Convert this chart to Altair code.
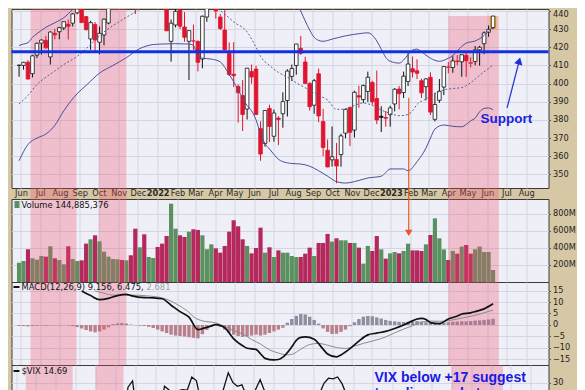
import altair as alt
import pandas as pd

# ---------------- data (weekly) ----------------
week_start = "2021-05-29"
n_weeks = 107

opens = [410.1, 410.0, 411.8, 405.5, 415.7, 422.3, 423.8, 414.7, 427.7, 428.6,
         430.7, 432.7, 433.3, 439.0, 440.9, 436.9, 424.6, 432.6, 422.8, 426.8,
         433.4, 443.6, 449.4, 458.8, 457.7, 460.1, 453.5, 445.3, 459.4, 445.3,
         462.7, 466.9, 453.5, 450.8, 423.3, 432.3, 440.6, 431.2, 423.3, 423.4,
         423.2, 413.5, 436.7, 444.4, 445.5, 436.7, 429.5, 416.7, 405.2, 398.4,
         393.4, 386.0, 406.7, 408.0, 375.2, 367.0, 386.3, 371.0, 381.0, 383.4,
         390.7, 404.0, 410.0, 419.4, 411.9, 400.0, 388.1, 405.4, 379.1, 363.3,
         358.0, 358.2, 360.9, 372.7, 386.9, 374.4, 393.3, 391.2, 395.7, 400.6,
         391.8, 382.0, 381.3, 382.9, 388.8, 397.0, 395.1, 401.2, 408.2, 407.1,
         401.6, 398.3, 403.5, 380.3, 390.8, 398.1, 408.9, 408.9, 412.4, 412.0,
         415.5, 411.1, 412.2, 418.6, 422.0, 428.3, 430.9]
highs = [410.4, 412.0, 412.9, 415.8, 422.6, 424.3, 426.3, 428.8, 430.2, 431.2,
         434.1, 435.3, 438.8, 441.1, 441.0, 437.2, 434.6, 433.9, 431.5, 435.9,
         444.1, 448.9, 459.8, 459.3, 460.0, 462.7, 456.0, 460.1, 462.1, 461.4,
         469.6, 470.6, 464.0, 451.1, 435.3, 449.2, 449.0, 439.4, 429.2, 432.5,
         423.9, 437.5, 445.4, 454.4, 450.2, 438.4, 442.7, 422.7, 422.8, 399.7,
         402.0, 408.6, 410.5, 409.8, 379.2, 385.2, 388.4, 385.7, 382.0, 395.2,
         407.9, 410.5, 421.9, 426.3, 414.8, 400.8, 402.5, 408.3, 386.1, 369.2,
         376.4, 367.3, 372.4, 386.3, 387.2, 396.1, 398.9, 399.5, 406.6, 401.6,
         407.2, 387.5, 384.9, 387.8, 397.5, 398.7, 406.6, 416.7, 414.9, 413.4,
         402.7, 402.9, 406.2, 395.0, 402.5, 409.7, 411.9, 415.1, 415.7, 415.9,
         417.6, 414.5, 420.7, 420.8, 428.7, 432.0, 437.3]
lows = [403.8, 407.7, 402.3, 403.4, 414.1, 416.0, 419.3, 410.5, 424.4, 424.4,
        429.5, 424.3, 431.5, 438.2, 433.5, 429.3, 418.6, 417.0, 416.2, 421.1,
        432.7, 442.1, 447.3, 451.1, 454.5, 445.6, 438.3, 442.8, 446.2, 442.3,
        462.6, 455.3, 447.4, 429.0, 412.1, 430.9, 430.0, 423.1, 402.0, 418.5,
        406.7, 408.4, 434.1, 441.4, 435.8, 429.5, 418.1, 404.2, 398.1, 378.5,
        373.9, 380.2, 400.0, 383.0, 357.5, 365.3, 367.8, 368.0, 366.1, 375.7,
        381.9, 401.4, 404.9, 415.8, 400.1, 385.1, 383.4, 378.7, 360.1, 353.9,
        354.3, 345.1, 354.2, 369.9, 365.6, 370.3, 386.6, 389.3, 389.9, 388.3,
        377.7, 373.3, 376.3, 376.3, 384.7, 385.8, 392.0, 398.7, 403.4, 402.5,
        392.1, 390.8, 382.7, 379.1, 389.4, 393.7, 405.7, 406.0, 410.2, 403.8,
        403.7, 408.9, 410.2, 409.9, 416.2, 425.8, 430.0]
closes = [410.1, 411.7, 402.5, 415.3, 422.2, 424.0, 419.7, 428.4, 426.9, 430.8,
          434.1, 431.6, 438.4, 441.1, 433.6, 429.7, 433.6, 424.0, 427.7, 435.5,
          442.5, 448.6, 457.6, 456.4, 458.0, 448.2, 442.8, 459.9, 449.1, 461.4,
          465.6, 456.7, 455.5, 429.1, 433.3, 439.8, 431.6, 425.5, 429.2, 423.6,
          411.7, 437.1, 445.1, 445.2, 440.0, 430.4, 418.7, 405.0, 404.4, 395.0,
          383.0, 408.5, 403.6, 383.0, 361.2, 385.2, 376.4, 383.8, 380.2, 390.1,
          406.9, 408.3, 421.8, 416.7, 400.1, 387.3, 401.6, 382.2, 364.8, 354.1,
          359.7, 354.6, 371.2, 385.8, 373.2, 395.2, 392.6, 398.9, 403.5, 390.0,
          380.0, 381.4, 380.9, 386.6, 396.9, 394.4, 404.1, 410.8, 406.4, 405.7,
          394.9, 402.6, 384.3, 388.5, 395.8, 409.4, 409.2, 412.5, 412.2, 415.9,
          412.6, 411.6, 418.6, 420.0, 427.9, 429.9, 437.2]
volume_m = [227, 247, 385, 279, 262, 306, 298, 420, 279, 259,
            208, 420, 270, 247, 255, 451, 502, 549, 478, 357,
            298, 270, 267, 259, 255, 314, 627, 408, 561, 294,
            282, 412, 451, 541, 921, 627, 549, 529, 592, 620,
            612, 549, 385, 443, 396, 345, 424, 592, 726, 655,
            502, 424, 337, 400, 639, 345, 408, 294, 372, 345,
            345, 306, 294, 294, 333, 404, 306, 459, 459, 565,
            475, 514, 490, 490, 459, 459, 404, 216, 424, 365,
            541, 384, 275, 337, 353, 337, 365, 451, 372, 372,
            365, 443, 553, 749, 514, 384, 259, 365, 333, 416,
            435, 333, 384, 416, 353, 353, 141]
vix_close = [16.4, 15.7, 20.7, 15.6, 15.1, 16.2, 18.5, 17.2, 18.2, 16.2,
             15.5, 18.6, 16.4, 16.4, 21.0, 20.8, 17.8, 21.2, 18.8, 16.3,
             15.4, 16.3, 16.5, 16.3, 17.9, 28.6, 30.7, 18.7, 21.6, 18.0,
             17.2, 18.8, 19.2, 28.9, 27.7, 23.2, 27.4, 27.8, 27.6, 32.0,
             30.8, 23.9, 20.8, 19.6, 21.2, 22.7, 28.2, 33.4, 30.2, 28.9,
             29.4, 25.7, 24.8, 27.8, 31.1, 27.2, 26.7, 24.6, 24.2, 23.0,
             21.3, 21.2, 19.5, 20.6, 25.6, 25.5, 22.8, 26.3, 29.9, 31.6,
             31.4, 32.0, 29.7, 25.8, 24.6, 22.5, 23.1, 20.5, 19.1, 22.8,
             22.6, 20.9, 21.7, 21.1, 18.4, 19.9, 18.5, 18.3, 20.5, 20.0,
             21.7, 18.5, 24.8, 25.5, 21.7, 18.7, 18.4, 17.1, 16.8, 15.8,
             17.2, 17.0, 16.8, 18.0, 14.6, 13.8, 14.69]
macd_hist = [-0.4, -0.5, -0.6, -0.4, -0.3, -0.2, -0.3, -0.2, -0.1, -0.2,
             -0.1, -0.2, -0.5, -0.9, -1.5, -2.2, -2.8, -3.2, -2.8, -2.0,
             -1.0, 0.4, 0.7, 0.8, 0.6, 0.2, -0.1, -0.3, -0.4, -0.8,
             -1.3, -2.0, -2.8, -3.5, -4.2, -4.6, -4.8, -5.0, -5.3, -5.6,
             -5.8, -4.0, -2.2, -0.8, 0.3, -0.8, -2.0, -3.2, -4.2, -4.8,
             -5.2, -5.0, -4.6, -4.2, -4.6, -4.2, -3.5, -2.8, -2.0, -1.2,
             1.0, 2.6, 4.0, 4.8, 4.6, 3.6, 2.2, 0.6, -1.5, -3.0,
             -3.9, -3.8, -3.0, -2.0, -0.5, 1.2, 2.6, 3.6, 3.9, 3.8,
             3.3, 2.8, 2.2, 1.8, 1.6, 1.4, 1.3, 1.4, 1.6, 1.7,
             1.5, 1.2, 0.8, 0.6, 0.7, 1.0, 1.2, 1.4, 1.5, 1.6,
             1.6, 1.7, 1.9, 2.0, 2.2, 2.4, 2.7]

# band / indicator lines: week index -> value
upper_idx = [0, 1, 2, 3, 4, 6, 8, 10, 12, 14, 16, 20, 25, 30, 35, 40, 45, 50, 55, 59,
             62, 63, 64, 65, 66, 67, 68, 70, 73, 76, 78, 80, 81, 82, 83, 85, 86, 87, 88, 89,
             90, 92, 94, 96, 97, 99, 100, 102, 104, 105, 106]
upper_val = [421.0, 421.8, 422.5, 425.5, 427.5, 431.0, 433.5, 436.3, 440.8, 444.4,
             450.0, 458.0, 468.0, 476.0, 480.0, 478.0, 472.0, 468.0, 462.0, 454.0,
             446.0, 440.0, 434.5, 429.5, 425.5, 423.8, 423.3, 424.5, 426.3, 427.5,
             428.0, 423.5, 419.0, 414.5, 412.3, 411.3, 413.0, 416.0, 418.5, 419.0,
             417.5, 414.0, 412.3, 414.0, 415.5, 420.5, 422.3, 423.5, 426.5, 429.0, 431.0]
mid_idx = [0, 2, 4, 6, 8, 10, 13, 16, 19, 22, 25, 28, 29, 31, 34, 37, 39, 41, 44, 46,
           48, 51, 53, 54, 56, 58, 60, 62, 65, 67, 69, 71, 73, 75, 77, 79, 81, 83, 85, 87,
           88, 89, 91, 93, 95, 97, 99, 101, 102, 104, 106]
mid_val = [388.8, 393.5, 399.5, 403.5, 407.0, 410.5, 415.0, 421.5, 428.5, 433.5,
           438.0, 442.5, 444.0, 447.0, 450.0, 449.0, 446.0, 443.5, 441.8, 438.3,
           434.0, 428.5, 420.0, 415.0, 410.0, 406.2, 403.6, 400.5, 396.3, 393.5,
           391.0, 385.8, 386.0, 388.0, 389.3, 388.0, 385.5, 383.6, 382.3, 383.0,
           385.0, 388.5, 391.5, 394.5, 396.5, 397.3, 397.8, 400.5, 402.5, 406.5, 410.2]
lower_idx = [0, 2, 4, 6, 8, 10, 13, 15, 18, 21, 24, 27, 30, 32, 35, 38, 39, 40, 41, 43,
             45, 46, 47, 48, 49, 50, 51, 52, 53, 54, 55, 56, 57, 58, 59, 61, 63, 65, 67, 69,
             71, 73, 75, 78, 81, 82, 83, 86, 87, 89, 91, 92, 93, 95, 97, 99, 100, 101, 102, 103,
             104, 105, 106]
lower_val = [357.5, 366.5, 370.0, 372.2, 377.0, 385.0, 394.5, 399.0, 405.8, 410.0,
             414.3, 419.3, 421.5, 421.8, 422.0, 421.8, 421.0, 415.0, 414.0, 413.5,
             412.0, 409.0, 405.0, 401.0, 396.5, 392.0, 388.0, 385.0, 380.0, 372.5,
             367.0, 364.0, 361.0, 358.3, 357.0, 356.0, 355.7, 354.5, 352.0, 349.0,
             346.0, 345.2, 346.0, 348.0, 349.0, 351.0, 353.0, 353.0, 352.0, 357.0,
             364.5, 370.0, 375.0, 377.2, 376.5, 376.2, 377.5, 379.5, 381.0, 384.5,
             386.3, 386.6, 385.5]
macd_idx = [14, 16, 18, 20, 22, 24, 25, 28, 30, 32, 34, 36, 38, 40, 41, 43, 44, 45, 46, 48,
            50, 51, 53, 54, 55, 57, 58, 59, 61, 62, 63, 64, 66, 68, 69, 71, 72, 74, 76, 78,
            80, 82, 84, 86, 88, 89, 90, 91, 92, 94, 96, 98, 99, 101, 102, 104, 106]
macd_val = [14.8, 12.8, 11.0, 11.6, 12.8, 13.3, 12.8, 11.9, 11.8, 11.4,
            8.6, 5.8, 3.4, -2.0, -1.6, -0.4, 0.2, -0.2, -1.2, -6.0,
            -9.0, -10.1, -10.6, -12.5, -14.5, -15.2, -15.0, -14.0, -9.5, -6.7,
            -5.4, -5.2, -6.2, -10.5, -12.6, -13.9, -13.0, -10.3, -7.0, -4.3,
            -3.5, -2.8, -1.5, 0.0, 1.8, 2.6, 2.9, 2.4, 1.0, 0.6,
            2.6, 3.9, 4.8, 5.3, 5.8, 7.0, 9.2]
signal_idx = [17, 19, 21, 25, 29, 32, 34, 36, 38, 39, 41, 44, 46, 48, 50, 52, 54, 56, 58, 60,
              61, 63, 65, 67, 69, 71, 73, 75, 77, 79, 82, 84, 86, 88, 90, 92, 94, 96, 98, 100,
              102, 104, 106]
signal_val = [14.8, 13.8, 13.0, 13.0, 12.6, 11.8, 10.4, 8.2, 5.5, 3.6,
              1.8, 0.9, -0.6, -2.4, -3.9, -6.3, -8.3, -10.8, -12.2, -13.0,
              -12.8, -10.5, -8.5, -8.0, -8.8, -9.8, -10.2, -9.2, -8.0, -7.0,
              -5.2, -3.4, -1.8, -0.3, 1.2, 1.7, 1.6, 1.9, 2.6, 3.4,
              4.2, 5.3, 6.5]

shade_start = ["2021-06-16", "2021-10-01", "2023-04-01"]
shade_end = ["2021-08-27", "2021-11-13", "2023-06-19"]
shade_top = [441.1, 441.1, 437.2]
strip_bottom = 336.4

support_level = 417.6
marker_date = "2023-01-29"
marker_top = 392.2
support_label_date = "2023-07-01"
support_label_value = 380.5
arrow_dates = ["2023-07-02", "2023-07-21"]
arrow_values = [386.6, 412.5]

price_ticks = [350, 360, 370, 380, 390, 400, 410, 420, 430, 440]
volume_ticks = [200, 400, 600, 800]
macd_ticks = [-15, -10, -5, 0, 5, 10, 15]
vix_ticks = [30]
first_month = (2021, 6)
last_month = (2023, 8)

# ---------------- styling ----------------
W = 537
H_PRICE, H_VOL, H_MACD, H_VIX = 179, 83, 83, 26
TAN = "#d6c8a4"
PLOT_BG = "#eff0f7"
RED = "#e0142e"
BLACK = "#111111"
PINK = "#f0506e"
BAND = "#4b4f9a"
FONT = "DejaVu Sans"

dates = pd.date_range(week_start, periods=n_weeks, freq="7D").strftime("%Y-%m-%d").tolist()
prev_close = [opens[0]] + closes[:-1]
candle_col = [RED if c < p else BLACK for c, p in zip(closes, prev_close)]
candle_body = ["#ffffff" if c > o else k for o, c, k in zip(opens, closes, candle_col)]
vol_col = ["#b4285c" if c < p else "#5b9160" for c, p in zip(closes, prev_close)]
hist_col = ["#8e8e9e" if h >= 0 else "#b97f8b" for h in macd_hist]

price_df = pd.DataFrame(dict(date=dates, open=opens, high=highs, low=lows, close=closes,
                             col=candle_col, body=candle_body))
vol_df = pd.DataFrame(dict(date=dates, vol=volume_m, col=vol_col))
hist_df = pd.DataFrame(dict(date=dates, h=macd_hist, col=hist_col))
vix_df = pd.DataFrame(dict(date=dates, v=vix_close))


def line_df(idx, vals):
    return pd.DataFrame({"date": [dates[i] for i in idx], "v": vals})


shade_df = pd.DataFrame(dict(start=shade_start, end=shade_end, top=shade_top,
                             bottom=[strip_bottom] * len(shade_start)))

months = []
y, m = first_month
while (y, m) <= last_month:
    months.append(alt.DateTime(year=y, month=m, date=1, utc=True))
    m += 1
    if m > 12:
        m, y = 1, y + 1

x_scale = alt.Scale(type="utc", domain=[alt.DateTime(year=2021, month=5, date=25, utc=True),
                                        alt.DateTime(year=2023, month=8, date=28, utc=True)])
x_axis_main = alt.Axis(values=months, title=None, grid=True, ticks=False, domain=False,
                       labelExpr="utcmonth(datum.value) == 0 ? utcFormat(datum.value, '%Y') : utcFormat(datum.value, '%b')",
                       labelFontWeight=alt.condition("utcmonth(datum.value) == 0", alt.value("bold"), alt.value("normal")),
                       labelPadding=1, labelFlush=False, labelOverlap=False, labelFontSize=8.2,
                       labelColor="#2a2a2a")
x_axis_plain = alt.Axis(values=months, title=None, grid=True, ticks=False, domain=False, labels=False)


def X(field="date", axis=x_axis_main):
    return alt.X(f"{field}:T", scale=x_scale, axis=axis)


def right_axis(values, expr=None, baseline=None):
    kw = dict(orient="right", values=values, title=None, grid=True, tickSize=2, labelPadding=2,
              labelFontSize=8.2, domain=False, minExtent=26, maxExtent=26)
    if expr:
        kw["labelExpr"] = expr
    if baseline is not None:
        kw["labelBaseline"] = baseline
    return alt.Axis(**kw)


# ---------------- price panel ----------------
p_scale = alt.Scale(domain=[342.5, 441.1], zero=False, nice=False)
p_axis = right_axis(price_ticks, baseline=alt.condition("datum.value >= 440", alt.value("top"), alt.value("middle")))


def YP(field):
    return alt.Y(f"{field}:Q", scale=p_scale, axis=p_axis)


pink_p = alt.Chart(shade_df).mark_rect(color=PINK, opacity=0.3).encode(
    x=X("start"), x2="end:T", y=YP("top"), y2="bottom:Q")
highlight = alt.Chart(price_df.tail(1)).mark_bar(size=7, color="#f5b23a").encode(
    x=X(), y=YP("low"), y2="high:Q")
wicks = alt.Chart(price_df).mark_rule(clip=True, strokeWidth=1).encode(
    x=X(), y=YP("low"), y2="high:Q", color=alt.Color("col:N", scale=None))
bodies = alt.Chart(price_df).mark_bar(clip=True, size=3.6, strokeWidth=0.8).encode(
    x=X(), y=YP("open"), y2="close:Q",
    fill=alt.Fill("body:N", scale=None), stroke=alt.Stroke("col:N", scale=None))
upper = alt.Chart(line_df(upper_idx, upper_val)).mark_line(
    clip=True, color=BAND, strokeWidth=1, interpolate="monotone").encode(x=X(), y=YP("v"))
lower_b = alt.Chart(line_df(lower_idx, lower_val)).mark_line(
    clip=True, color=BAND, strokeWidth=1, interpolate="monotone").encode(x=X(), y=YP("v"))
mid = alt.Chart(line_df(mid_idx, mid_val)).mark_line(
    clip=True, color="#55608f", strokeWidth=1, strokeDash=[2, 2], interpolate="monotone").encode(x=X(), y=YP("v"))
support = alt.Chart(pd.DataFrame({"level": [support_level]})).mark_rule(
    color="#1030e6", strokeWidth=3).encode(y=YP("level"))
orange_p = alt.Chart(pd.DataFrame({"date": [marker_date], "top": [marker_top], "bottom": [strip_bottom]})).mark_rule(
    color="#e8572a", strokeWidth=1.2).encode(x=X(), y=YP("top"), y2="bottom:Q")
arrow_df = pd.DataFrame({"date": arrow_dates, "v": arrow_values})
arrow_line = alt.Chart(arrow_df).mark_line(color="#2a3ad4", strokeWidth=1.3).encode(x=X(), y=YP("v"))
arrow_head = alt.Chart(arrow_df.tail(1)).mark_point(
    shape="triangle-up", filled=True, size=70, angle=15, color="#1a2ee0", opacity=1).encode(x=X(), y=YP("v"))
support_txt = alt.Chart(pd.DataFrame({"date": [support_label_date], "v": [support_label_value], "t": ["Support"]})).mark_text(
    font="Liberation Sans", fontSize=13.5, fontWeight="bold", color="#1a22dd", align="center", baseline="middle").encode(
    x=X(), y=YP("v"), text="t:N")

price_panel = alt.layer(pink_p, highlight, wicks, bodies, upper, lower_b, mid, support, orange_p,
                        arrow_line, arrow_head, support_txt).properties(width=W, height=H_PRICE)

# ---------------- volume panel ----------------
v_scale = alt.Scale(domain=[0, 976], nice=False, zero=True)
v_axis = right_axis(volume_ticks, "datum.value + 'M'")


def YV(field):
    return alt.Y(f"{field}:Q", scale=v_scale, axis=v_axis)


vol_bars = alt.Chart(vol_df).mark_bar(size=4.2).encode(
    x=X(axis=x_axis_plain), y=YV("vol"), color=alt.Color("col:N", scale=None))
pink_v = alt.Chart(shade_df).mark_rect(color=PINK, opacity=0.3).encode(
    x=X("start", x_axis_plain), x2="end:T", y=alt.value(0), y2=alt.value(H_VOL))
orange_v = alt.Chart(pd.DataFrame({"date": [marker_date], "top": [976], "bottom": [590]})).mark_rule(
    color="#e8572a", strokeWidth=1.2).encode(x=X(axis=x_axis_plain), y=YV("top"), y2="bottom:Q")
orange_head = alt.Chart(pd.DataFrame({"date": [marker_date], "v": [578]})).mark_point(
    shape="triangle-down", filled=True, size=55, color="#e8572a", opacity=1).encode(
    x=X(axis=x_axis_plain), y=YV("v"))
label_df = pd.DataFrame({"t": ["x"]})
vol_icon = alt.Chart(label_df).mark_rect(color="#5b9160").encode(
    x=alt.value(3), x2=alt.value(8), y=alt.value(2), y2=alt.value(9))
vol_lbl = alt.Chart(pd.DataFrame({"t": ["Volume 144,885,376"]})).mark_text(
    font=FONT, fontSize=8.4, align="left", baseline="middle", color="#111").encode(
    x=alt.value(10), y=alt.value(6), text="t:N")
vol_panel = alt.layer(vol_bars, pink_v, orange_v, orange_head, vol_icon, vol_lbl).properties(width=W, height=H_VOL)

# ---------------- MACD panel ----------------
m_scale = alt.Scale(domain=[-17.4, 18.7], nice=False, zero=False)
m_axis = right_axis(macd_ticks)


def YM(field):
    return alt.Y(f"{field}:Q", scale=m_scale, axis=m_axis)


hist_bars = alt.Chart(hist_df).mark_bar(size=3.4).encode(
    x=X(axis=x_axis_plain), y=YM("h"), y2=alt.Y2(datum=0), color=alt.Color("col:N", scale=None))
pink_m = alt.Chart(shade_df).mark_rect(color=PINK, opacity=0.3).encode(
    x=X("start", x_axis_plain), x2="end:T", y=alt.value(0), y2=alt.value(H_MACD))
signal_line = alt.Chart(line_df(signal_idx, signal_val)).mark_line(
    clip=True, color="#8a8a8a", strokeWidth=1, interpolate="monotone").encode(x=X(axis=x_axis_plain), y=YM("v"))
macd_line = alt.Chart(line_df(macd_idx, macd_val)).mark_line(
    clip=True, color="#111111", strokeWidth=1.7, interpolate="monotone").encode(x=X(axis=x_axis_plain), y=YM("v"))
dash_m = alt.Chart(label_df).mark_rule(color="#111", strokeWidth=2).encode(
    x=alt.value(2), x2=alt.value(8), y=alt.value(5))
macd_lbl = alt.Chart(pd.DataFrame({"t": ["MACD(12,26,9) 9.156, 6.475,"]})).mark_text(
    font=FONT, fontSize=8.4, align="left", baseline="middle", color="#111").encode(
    x=alt.value(10), y=alt.value(5), text="t:N")
macd_lbl2 = alt.Chart(pd.DataFrame({"t": ["2.681"]})).mark_text(
    font=FONT, fontSize=8.4, align="left", baseline="middle", color="#a0a0a0").encode(
    x=alt.value(135), y=alt.value(5), text="t:N")
macd_panel = alt.layer(hist_bars, pink_m, signal_line, macd_line, dash_m, macd_lbl, macd_lbl2).properties(
    width=W, height=H_MACD)

# ---------------- VIX panel (only its top strip is visible) ----------------
vx_scale = alt.Scale(domain=[27.33, 36.0], nice=False, zero=False)
vx_axis = right_axis(vix_ticks)
pink_x = alt.Chart(shade_df).mark_rect(color=PINK, opacity=0.3).encode(
    x=X("start", x_axis_plain), x2="end:T", y=alt.value(0), y2=alt.value(H_VIX))
vix_line = alt.Chart(vix_df).mark_line(clip=True, color="#111111", strokeWidth=1.3).encode(
    x=X(axis=x_axis_plain), y=alt.Y("v:Q", scale=vx_scale, axis=vx_axis))
dash_x = alt.Chart(label_df).mark_rule(color="#111", strokeWidth=2).encode(
    x=alt.value(2), x2=alt.value(8), y=alt.value(6))
vix_lbl = alt.Chart(pd.DataFrame({"t": ["$VIX 14.69"]})).mark_text(
    font=FONT, fontSize=8.4, align="left", baseline="middle", color="#111").encode(
    x=alt.value(10), y=alt.value(6), text="t:N")
note1 = alt.Chart(pd.DataFrame({"t": ["VIX below +17 suggest"]})).mark_text(
    font="Liberation Sans", fontSize=14, fontWeight="bold", color="#1a1ae0", align="left",
    baseline="alphabetic", clip=True).encode(x=alt.value(363), y=alt.value(17), text="t:N")
note2 = alt.Chart(pd.DataFrame({"t": ["trending market"]})).mark_text(
    font="Liberation Sans", fontSize=14, fontWeight="bold", color="#1a1ae0", align="left",
    baseline="alphabetic", clip=True).encode(x=alt.value(363), y=alt.value(33), text="t:N")
vix_panel = alt.layer(pink_x, vix_line, dash_x, vix_lbl, note1, note2).properties(width=W, height=H_VIX)

lower = alt.vconcat(vol_panel, macd_panel, vix_panel, spacing=0, bounds="flush")
chart = alt.vconcat(price_panel, lower, spacing=11, bounds="flush").properties(
    padding={"left": 1.5, "top": 0, "right": 0, "bottom": 0},
    background=TAN,
).configure_view(
    fill=PLOT_BG, stroke="#3a3a3a", strokeWidth=1
).configure_axis(
    gridColor="#d3d6e2", gridWidth=1, labelFont=FONT, labelFontSize=9, labelColor="#222",
    tickColor="#555", domain=False
)

chart.save("out.html", embed_options={"renderer": "svg", "actions": False})
